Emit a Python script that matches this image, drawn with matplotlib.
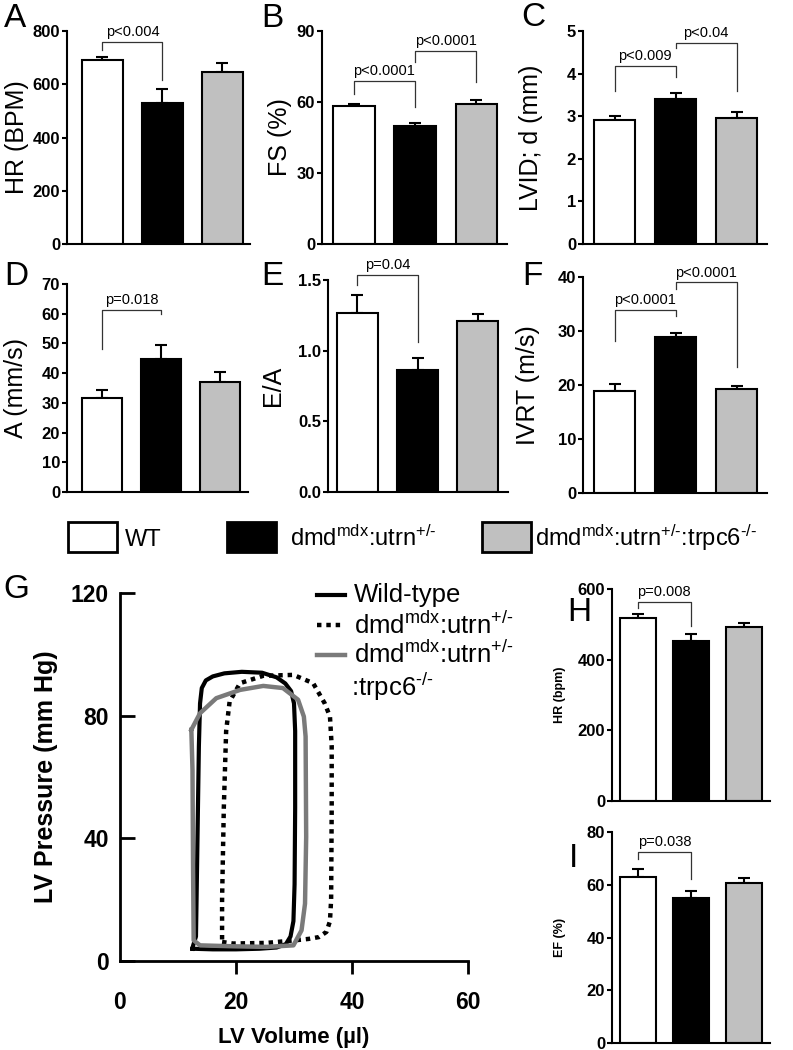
import numpy as np
import matplotlib
matplotlib.use('Agg')
import matplotlib.pyplot as plt
from matplotlib.patches import Rectangle
from matplotlib.lines import Line2D
from matplotlib.ticker import FormatStrFormatter

plt.rcParams['font.family'] = ['Liberation Sans', 'DejaVu Sans']
plt.rcParams['mathtext.fontset'] = 'custom'
plt.rcParams['mathtext.rm'] = 'Liberation Sans'
plt.rcParams['mathtext.it'] = 'Liberation Sans:italic'
plt.rcParams['mathtext.bf'] = 'Liberation Sans:bold'

################################################################################
# Data
################################################################################
groups = ['WT', 'dmd$^{\\text{mdx}}$:utrn$^{\\text{+/-}}$',
          'dmd$^{\\text{mdx}}$:utrn$^{\\text{+/-}}$:trpc6$^{\\text{-/-}}$']
bar_colors = ['white', 'black', '#c0c0c0']

hr_echo = [690, 528, 647]
hr_echo_err = [14, 53, 34]
fs = [58.2, 50.0, 59.3]
fs_err = [0.9, 1.2, 1.5]
lvid = [2.92, 3.40, 2.95]
lvid_err = [0.09, 0.14, 0.14]
a_wave = [31.7, 44.9, 36.9]
a_wave_err = [2.7, 4.5, 3.4]
ea_ratio = [1.265, 0.865, 1.21]
ea_ratio_err = [0.13, 0.08, 0.05]
ivrt = [18.8, 28.8, 19.3]
ivrt_err = [1.3, 0.9, 0.5]
hr_cath = [519, 453, 492]
hr_cath_err = [10, 21, 13]
ef = [62.8, 55.0, 60.5]
ef_err = [3.0, 2.7, 1.9]

# brackets: (left bar, right bar, top, left end, right end, text)
br_a = [(0, 1, 760, 730, 615, 'p<0.004')]
br_b = [(0, 1, 68.9, 63.3, 57.7, 'p<0.0001'), (1, 2, 81.6, 76.9, 68.5, 'p<0.0001')]
br_c = [(0, 1, 4.18, 3.58, 3.91, 'p<0.009'), (1, 2, 4.72, 4.61, 3.60, 'p<0.04')]
br_d = [(0, 1, 61.2, 48.0, 59.9, 'p=0.018')]
br_e = [(0, 1, 1.536, 1.465, 1.063, 'p=0.04')]
br_f = [(0, 1, 33.9, 28.2, 32.7, 'p<0.0001'), (1, 2, 39.0, 37.7, 23.3, 'p<0.0001')]
br_h = [(0, 1, 564, 545, 495, 'p=0.008')]
br_i = [(0, 1, 72.4, 69.9, 62.3, 'p=0.038')]

# pressure-volume loops (volume in ul, pressure in mm Hg)
wt_vol = [12.5, 16, 20, 24, 27, 28.6, 29.4, 29.9, 30.1, 30.2, 30.2, 30.0, 29.5, 28.5,
          27.0, 24.5, 21, 18, 16, 14.8, 14.1, 13.8, 13.6, 13.4, 13.2, 13.1, 12.6, 12.5]
wt_pres = [4.0, 3.8, 3.8, 4.0, 4.4, 5.5, 8, 13, 25, 50, 75, 84, 88, 90.5,
           92.5, 94, 94.3, 93.8, 92.8, 91.5, 89, 84, 70, 45, 20, 8, 5, 4.0]
mdx_vol = [17.6, 19.5, 25.3, 29.9, 32.5, 34.3, 35.6, 36.2, 36.4, 36.5, 36.5, 36.2, 35.3,
           33.3, 29.9, 24.7, 20.7, 18.9, 18.3, 17.9, 17.6, 17.6]
mdx_pres = [6.2, 5.7, 5.9, 6.7, 7.2, 7.8, 9.5, 13, 20, 50, 70, 79.7, 84,
            90.6, 93.3, 93.0, 90.6, 84.6, 75, 50, 20, 6.2]
trpc_vol = [12.3, 13.8, 16.6, 20.7, 24.7, 28.1, 30.7, 31.7, 32.0, 32.1, 31.9, 31.3, 29.9,
            25.3, 19.5, 13.8, 12.7, 12.6, 12.5, 12.3]
trpc_pres = [75.4, 80.8, 85.7, 88.4, 89.7, 89.0, 85.2, 79.7, 73.2, 40.5, 18.7, 10.0, 5.1,
             4.6, 4.8, 5.1, 6.75, 29.6, 62.3, 75.4]

W, H = 793, 1050
fig = plt.figure(figsize=(W / 100, H / 100), dpi=100)


def rect(x0, y_top, x1, y_bot):
    # pixel box -> figure fraction
    return [x0 / W, 1 - y_bot / H, (x1 - x0) / W, (y_bot - y_top) / H]


################################################################################
# Bar panel
################################################################################
def bar_panel(box, vals, errs, ylim, yticks, ylabel, label_x, brackets,
              xlim=(-0.52, 2.5), width=0.68, label_fs=18, label_bold=False,
              tick_fs=12, fmt=None, capsize=4.5):
    ax = fig.add_axes(box)
    x = np.arange(len(vals))
    ax.bar(x, vals, width=width, color=bar_colors, edgecolor='black', linewidth=1.5, zorder=2)
    ax.errorbar(x, vals, yerr=[np.zeros(len(errs)), errs], fmt='none', ecolor='black',
                elinewidth=1.5, capsize=capsize, capthick=1.5, zorder=1)
    ax.set_xlim(*xlim)
    ax.set_ylim(*ylim)
    ax.set_yticks(yticks)
    if fmt:
        ax.yaxis.set_major_formatter(FormatStrFormatter(fmt))
    ax.set_xticks([])
    for s in ['top', 'right']:
        ax.spines[s].set_visible(False)
    for s in ['left', 'bottom']:
        ax.spines[s].set_linewidth(1.5)
    ax.tick_params(axis='y', direction='out', length=3.5, width=1.5, pad=1.5,
                   labelsize=tick_fs)
    for t in ax.get_yticklabels():
        t.set_fontweight('bold')
    ax.set_ylabel(ylabel, fontsize=label_fs, fontweight='bold' if label_bold else 'normal')
    ax.yaxis.set_label_coords(label_x, 0.5)
    for (i1, i2, yt, y1, y2, txt) in brackets:
        ax.plot([i1, i1, i2, i2], [y1, yt, yt, y2], color='#333333', lw=0.9,
                clip_on=False, zorder=3)
        ax.annotate(txt, ((i1 + i2) / 2, yt), xytext=(0, 2), textcoords='offset points',
                    ha='center', va='bottom', fontsize=10.5, annotation_clip=False)
    return ax


bar_panel(rect(67, 31, 250, 244), hr_echo, hr_echo_err, (0, 800), range(0, 801, 200),
          'HR (BPM)', -0.21, br_a, xlim=(-0.59, 2.46))
bar_panel(rect(322, 31, 507, 244), fs, fs_err, (0, 90), [0, 30, 60, 90],
          'FS (%)', -0.16, br_b)
bar_panel(rect(583, 31, 767, 244), lvid, lvid_err, (0, 5), range(0, 6),
          'LVID; d (mm)', -0.22, br_c)
bar_panel(rect(67, 284, 248, 492), a_wave, a_wave_err, (0, 70), range(0, 71, 10),
          'A (mm/s)', -0.215, br_d, xlim=(-0.6, 2.47))
bar_panel(rect(328, 280, 508, 492), ea_ratio, ea_ratio_err, (0, 1.5), [0, 0.5, 1.0, 1.5],
          'E/A', -0.24, br_e, xlim=(-0.49, 2.5), fmt='%.1f')
bar_panel(rect(583, 277, 767, 493), ivrt, ivrt_err, (0, 40), range(0, 41, 10),
          'IVRT (m/s)', -0.234, br_f)
bar_panel(rect(612, 589, 770, 801), hr_cath, hr_cath_err, (0, 600), range(0, 601, 200),
          'HR (bpm)', -0.29, br_h, xlim=(-0.49, 2.5), label_fs=9, label_bold=True,
          capsize=4)
bar_panel(rect(612, 832, 770, 1043), ef, ef_err, (0, 80), range(0, 81, 20),
          'EF (%)', -0.29, br_i, xlim=(-0.49, 2.5), label_fs=9, label_bold=True,
          capsize=4)

################################################################################
# Legend row
################################################################################
box_x = [68, 227, 482]
text_x = [125, 290, 535]
for bx, tx, col, lab in zip(box_x, text_x, bar_colors, groups):
    fig.add_artist(Rectangle((bx / W, 1 - 552 / H), 49 / W, 30 / H, facecolor=col,
                             edgecolor='black', linewidth=2, transform=fig.transFigure))
    fig.text(tx / W, 1 - 546 / H, lab, fontsize=17, va='baseline', ha='left')

################################################################################
# Pressure-volume loops
################################################################################
axg = fig.add_axes(rect(120, 593, 468, 961))
axg.plot(wt_vol, wt_pres, color='black', lw=3, solid_joinstyle='round')
axg.plot(mdx_vol, mdx_pres, color='black', lw=3.2, linestyle=(0, (1, 1.1)))
axg.plot(trpc_vol, trpc_pres, color='#7a7a7a', lw=3.2, solid_joinstyle='round')
axg.set_xlim(0, 60)
axg.set_ylim(0, 120)
axg.set_xticks([0, 20, 40, 60])
axg.set_yticks([0, 40, 80, 120])
for s in ['top', 'right']:
    axg.spines[s].set_visible(False)
for s in ['left', 'bottom']:
    axg.spines[s].set_linewidth(2)
axg.tick_params(axis='y', direction='in', length=11, width=2, pad=8, labelsize=16.5)
axg.tick_params(axis='x', direction='out', length=9.5, width=2, pad=12, labelsize=16.5)
axg.xaxis.get_majorticklines()[0].set_visible(False)
for t in axg.get_xticklabels() + axg.get_yticklabels():
    t.set_fontweight('bold')
axg.set_ylabel('LV Pressure (mm Hg)', fontsize=18, fontweight='bold')
axg.yaxis.set_label_coords(-0.178, 0.5)
axg.set_xlabel('LV Volume (\u00b5l)', fontsize=16, fontweight='bold', va='center')
axg.xaxis.set_label_coords(0.5, -0.207)

# loop legend
leg_styles = [dict(color='black', lw=3), dict(color='black', lw=3.2, linestyle=(0, (1, 1.1))),
              dict(color='#7a7a7a', lw=3.2)]
leg_labels = ['Wild-type', groups[1], groups[1]]
leg_y = [0.995, 0.913, 0.832]
for st, lab, ly in zip(leg_styles, leg_labels, leg_y):
    axg.add_line(Line2D([0.566, 0.647], [ly, ly], transform=axg.transAxes,
                        clip_on=False, **st))
    axg.text(0.672, ly, lab, transform=axg.transAxes, fontsize=18.5, va='center')
axg.text(0.665, 0.745, ':trpc6$^{\\text{-/-}}$', transform=axg.transAxes,
         fontsize=18.5, va='center')

################################################################################
# Panel letters
################################################################################
letters = [('A', 4, 27), ('B', 261, 27), ('C', 521, 26), ('D', 4, 285), ('E', 261, 285),
           ('F', 522, 285), ('G', 3, 598), ('H', 567, 621), ('I', 569, 867)]
for lt, lx, ly in letters:
    fig.text(lx / W, 1 - ly / H, lt, fontsize=24, va='baseline', ha='left')

fig.savefig('out.png', dpi=100)
